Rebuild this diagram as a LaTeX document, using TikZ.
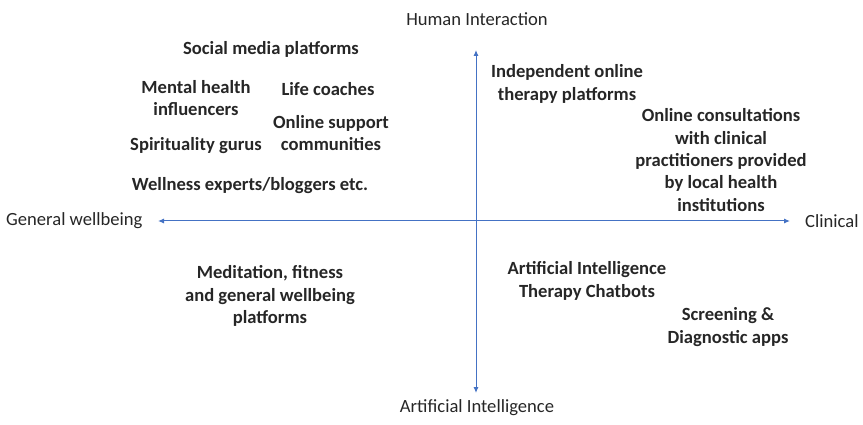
\documentclass[tikz,border=0pt]{standalone}
\usepackage{fontspec}
\setmainfont{Carlito}
\usetikzlibrary{arrows.meta}
\definecolor{axisblue}{HTML}{4472C4}
\definecolor{txt}{HTML}{262626}
\begin{document}
\begin{tikzpicture}[x=1pt,y=-1pt,
  item/.style={font=\fontsize{18.6}{22.3}\selectfont\bfseries, text=txt, align=center, inner sep=0pt},
  axlabel/.style={font=\fontsize{18.6}{22.3}\selectfont, text=txt, inner sep=0pt},
  axisline/.style={draw=axisblue, line width=1pt}]
\useasboundingbox (0,0) rectangle (863,425);
% axis endpoints
\coordinate (top) at (476,50);
\coordinate (bot) at (476,393);
\coordinate (lft) at (158,221);
\coordinate (rgt) at (790,221);
\draw[axisline, {Latex[length=6pt,width=5pt]}-{Latex[length=6pt,width=5pt]}] (lft) -- (rgt);
\draw[axisline, {Latex[length=6pt,width=5pt]}-{Latex[length=6pt,width=5pt]}] (top) -- (bot);
% axis labels
\node[axlabel] (hi) at (477,19) {Human Interaction};
\node[axlabel] (ai) at (477,408) {Artificial Intelligence};
\node[axlabel, anchor=west] (gw) at (6,221) {General wellbeing};
\node[axlabel, anchor=west] (cl) at (805,221) {Clinical};
% items
\node[item] (smp) at (271,49) {Social media platforms};
\node[item] (mhi) at (196,98) {Mental health\\influencers};
\node[item] (lc) at (328,89) {Life coaches};
\node[item] (osc) at (331,133) {Online support\\communities};
\node[item] (sg) at (196,146) {Spirituality gurus};
\node[item] (we) at (250,186) {Wellness experts/bloggers etc.};
\node[item] (iot) at (567,84) {Independent online\\therapy platforms};
\node[item] (oc) at (721,160) {Online consultations\\with clinical\\practitioners provided\\by local health\\institutions};
\node[item] (med) at (270,296) {Meditation, fitness\\and general wellbeing\\platforms};
\node[item] (aitc) at (587,281) {Artificial Intelligence\\Therapy Chatbots};
\node[item] (sda) at (728,327) {Screening \&\\Diagnostic apps};
\end{tikzpicture}
\end{document}
